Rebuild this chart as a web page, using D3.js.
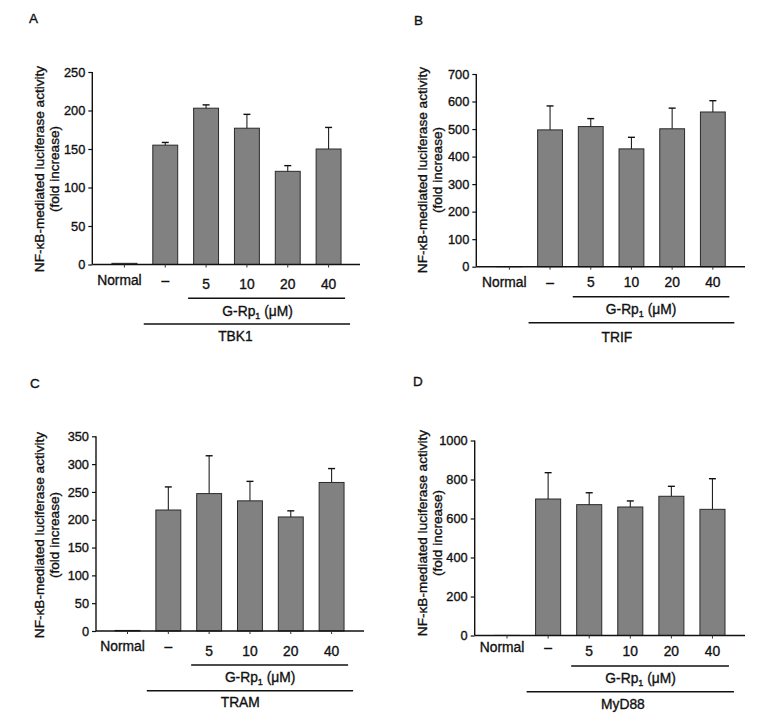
<!DOCTYPE html>
<html>
<head>
<meta charset="utf-8">
<script src="https://cdn.jsdelivr.net/npm/d3@7"></script>
<style>
  html, body { margin: 0; padding: 0; background: #fff; }
  svg { display: block; }
  text { font-family: "Liberation Sans", Arial, sans-serif; fill: #111; stroke: #111; stroke-width: 0.35px; }
</style>
</head>
<body>
<svg id="chart" width="766" height="723"></svg>
<script>
// ---------- data ----------
const categories = ["Normal", "–", "5", "10", "20", "40"];
const panelLetters = ["A", "B", "C", "D"];
const genes = ["TBK1", "TRIF", "TRAM", "MyD88"];
const yTitle1 = "NF-κB-mediated luciferase activity";
const yTitle2 = "(fold increase)";
const doseTitle = "G-Rp";
const doseSub = "1";
const doseUnit = " (μM)";

const tbk1Means  = [1.5, 155, 203, 177, 121, 150];
const tbk1Errors = [0, 3.5, 4.3, 18, 7.4, 28];
const tbk1Ticks  = [0, 50, 100, 150, 200, 250];

const trifMeans  = [0.5, 497, 509, 428, 501, 562];
const trifErrors = [0, 87, 29, 42, 75, 41];
const trifTicks  = [0, 100, 200, 300, 400, 500, 600, 700];

const tramMeans  = [1, 217.5, 247, 234, 205, 267];
const tramErrors = [0, 41.5, 68, 35, 11, 25];
const tramTicks  = [0, 50, 100, 150, 200, 250, 300, 350];

const myd88Means  = [0.5, 700, 671, 659, 714, 647];
const myd88Errors = [0, 135, 61, 31, 51, 157];
const myd88Ticks  = [0, 200, 400, 600, 800, 1000];

// ---------- layout (positions only) ----------
const layouts = [
  { axisX: 92.3, axisEnd: 360, y0: 264.5, yTop: 72, band: [104, 349],
    letter: [29, 23], titleX: 44, titleY: 169,
    normalY: 285, numY: 289, line1Y: 298.3, doseY: 315.7, doseDx: -9, line2Y: 324, geneY: 340.7, geneDx: -11.5 },
  { axisX: 476.3, axisEnd: 745, y0: 266.7, yTop: 74, band: [489, 733.2],
    letter: [414, 25], titleX: 427, titleY: 170,
    normalY: 287, numY: 287, line1Y: 296.7, doseY: 314, doseDx: -10, line2Y: 322.7, geneY: 341.7, geneDx: -14.5 },
  { axisX: 96, axisEnd: 364, y0: 631, yTop: 436.3, band: [107.1, 352],
    letter: [30, 388], titleX: 44, titleY: 535,
    normalY: 650.7, numY: 656, line1Y: 665, doseY: 681.7, doseDx: -9.5, line2Y: 690.7, geneY: 706.7, geneDx: -9.7 },
  { axisX: 474.7, axisEnd: 745, y0: 635.5, yTop: 440.5, band: [486.5, 733],
    letter: [413, 386], titleX: 427, titleY: 533,
    normalY: 651.7, numY: 655.7, line1Y: 666, doseY: 683.3, doseDx: -9.5, line2Y: 691.7, geneY: 709, geneDx: -7.4 }
];

const panels = [
  { means: tbk1Means, errors: tbk1Errors, ticks: tbk1Ticks },
  { means: trifMeans, errors: trifErrors, ticks: trifTicks },
  { means: tramMeans, errors: tramErrors, ticks: tramTicks },
  { means: myd88Means, errors: myd88Errors, ticks: myd88Ticks }
];

const svg = d3.select("#chart");

panels.forEach((p, i) => {
  const L = layouts[i];
  const g = svg.append("g");
  const yMax = p.ticks[p.ticks.length - 1];

  const x = d3.scaleBand().domain(categories).range(L.band)
    .paddingInner(0.39).paddingOuter(0.195);
  const y = d3.scaleLinear().domain([0, yMax]).range([L.y0, L.yTop]);
  const cx = c => x(c) + x.bandwidth() / 2;

  // panel letter
  g.append("text").attr("x", L.letter[0]).attr("y", L.letter[1])
    .attr("font-size", 13.5).text(panelLetters[i]);

  // y title
  const tg = g.append("g").attr("transform", `translate(${L.titleX},${L.titleY}) rotate(-90)`);
  tg.append("text").attr("text-anchor", "middle").attr("font-size", 13.6).text(yTitle1);
  tg.append("text").attr("text-anchor", "middle").attr("y", 14.5).attr("font-size", 13.6).text(yTitle2);

  // bars
  const data = categories.map((c, k) => ({ c, v: p.means[k], e: p.errors[k] }));
  g.selectAll("rect.bar").data(data).enter().append("rect")
    .attr("class", "bar")
    .attr("x", d => x(d.c))
    .attr("width", x.bandwidth())
    .attr("y", d => y(d.v))
    .attr("height", d => Math.max(0, y(0) - y(d.v)))
    .attr("fill", "#818181")
    .attr("stroke", "#2a2a2a")
    .attr("stroke-width", 1);

  // error bars (upper only)
  const eb = data.filter(d => d.e > 0);
  g.selectAll("line.err").data(eb).enter().append("line")
    .attr("x1", d => cx(d.c)).attr("x2", d => cx(d.c))
    .attr("y1", d => y(d.v)).attr("y2", d => y(d.v + d.e))
    .attr("stroke", "#222").attr("stroke-width", 1.1);
  g.selectAll("line.cap").data(eb).enter().append("line")
    .attr("x1", d => cx(d.c) - 3.5).attr("x2", d => cx(d.c) + 3.5)
    .attr("y1", d => y(d.v + d.e)).attr("y2", d => y(d.v + d.e))
    .attr("stroke", "#111").attr("stroke-width", 1.4);

  // y axis
  const ya = g.append("g").attr("transform", `translate(${L.axisX},0)`)
    .call(d3.axisLeft(y).tickValues(p.ticks).tickSize(4).tickPadding(3).tickFormat(d3.format("d")));
  ya.select(".domain").attr("d", `M0,${L.y0}V${L.yTop}`).attr("stroke", "#111").attr("stroke-width", 1.4);
  ya.selectAll(".tick line").attr("stroke", "#111").attr("stroke-width", 1.2);
  ya.selectAll(".tick text").attr("font-size", 12.8).attr("font-family", "Liberation Sans, Arial, sans-serif")
    .attr("fill", "#111").attr("stroke", "#111").attr("stroke-width", 0.35);

  // x axis line + small ticks
  g.append("line").attr("x1", L.axisX).attr("x2", L.axisEnd)
    .attr("y1", L.y0).attr("y2", L.y0).attr("stroke", "#111").attr("stroke-width", 1.4);
  g.selectAll("line.xt").data(categories).enter().append("line")
    .attr("x1", d => cx(d)).attr("x2", d => cx(d))
    .attr("y1", L.y0).attr("y2", L.y0 + 3)
    .attr("stroke", "#333").attr("stroke-width", 1);

  // category labels
  g.selectAll("text.cat").data(categories).enter().append("text")
    .attr("text-anchor", "middle")
    .attr("font-size", 13.8)
    .attr("x", (d, k) => cx(d) + (k === 0 ? -5 : 0))
    .attr("y", (d, k) => k < 2 ? L.normalY : L.numY)
    .text(d => d);

  // bracket line 1 (dose)
  const l1a = cx(categories[2]) - 18, l1b = cx(categories[5]) + 16.5;
  g.append("line").attr("x1", l1a).attr("x2", l1b).attr("y1", L.line1Y).attr("y2", L.line1Y)
    .attr("stroke", "#111").attr("stroke-width", 1.6);
  const dt = g.append("text").attr("text-anchor", "middle").attr("font-size", 13.8)
    .attr("x", (l1a + l1b) / 2 + L.doseDx).attr("y", L.doseY);
  dt.append("tspan").text(doseTitle);
  dt.append("tspan").attr("font-size", 9).attr("dy", 3).text(doseSub);
  dt.append("tspan").attr("dy", -3).text(doseUnit);

  // bracket line 2 (gene)
  const l2a = cx(categories[1]) - 21.5, l2b = cx(categories[5]) + 21.5;
  g.append("line").attr("x1", l2a).attr("x2", l2b).attr("y1", L.line2Y).attr("y2", L.line2Y)
    .attr("stroke", "#111").attr("stroke-width", 1.6);
  g.append("text").attr("text-anchor", "middle").attr("font-size", 13.8)
    .attr("x", (l2a + l2b) / 2 + L.geneDx).attr("y", L.geneY).text(genes[i]);
});
</script>
</body>
</html>
